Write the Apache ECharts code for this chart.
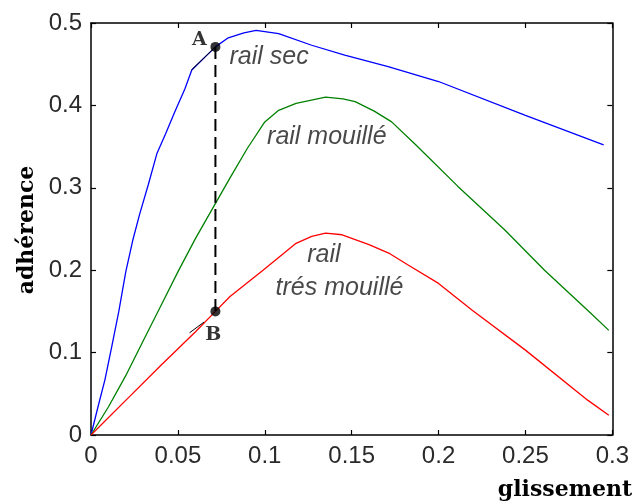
<!DOCTYPE html>
<html><head><meta charset="utf-8">
<script src="https://cdn.jsdelivr.net/npm/echarts@6/dist/echarts.min.js"></script>
<style>html,body{margin:0;padding:0;background:#fff}#c{width:632px;height:504px}</style>
</head><body><div id="c"></div>
<script>
const xTicks = [0, 0.05, 0.1, 0.15, 0.2, 0.25, 0.3];
const yTicks = [0, 0.1, 0.2, 0.3, 0.4, 0.5];
const railSec = [[0,0],[0.004,0.034],[0.008,0.067],[0.012,0.108],[0.016,0.15],[0.02,0.198],[0.024,0.236],[0.028,0.268],[0.033,0.304],[0.038,0.342],[0.043,0.366],[0.048,0.391],[0.054,0.42],[0.058,0.443],[0.0716,0.471],[0.079,0.482],[0.088,0.488],[0.095,0.491],[0.108,0.487],[0.127,0.473],[0.146,0.461],[0.171,0.447],[0.2,0.429],[0.25,0.388],[0.295,0.352]];
const railMouille = [[0,0],[0.01,0.034],[0.02,0.072],[0.03,0.114],[0.04,0.156],[0.05,0.198],[0.06,0.238],[0.07,0.275],[0.08,0.312],[0.09,0.348],[0.1,0.38],[0.108,0.394],[0.118,0.4025],[0.135,0.41],[0.145,0.408],[0.152,0.4045],[0.163,0.393],[0.173,0.38],[0.187,0.352],[0.211,0.302],[0.238,0.249],[0.261,0.2],[0.287,0.149],[0.298,0.127]];
const railTresMouille = [[0,0],[0.02,0.042],[0.04,0.084],[0.06,0.125],[0.0716,0.15],[0.08,0.168],[0.099,0.2],[0.118,0.2326],[0.127,0.241],[0.135,0.245],[0.1445,0.243],[0.16,0.231],[0.172,0.22],[0.182,0.207],[0.2,0.184],[0.219,0.152],[0.25,0.103],[0.286,0.042],[0.298,0.024]];
const tangentA = [[0.0578,0.443],[0.0716,0.471]];
const tangentB = [[0.0567,0.124],[0.065,0.137]];
const pointsAB = [[0.0716,0.471],[0.0716,0.15]];
const dashAB = [[0.0716,0.471],[0.0716,0.15]];
const pointLabels = [["A",0.0624,0.479],["B",0.0704,0.121]];
const curveLabels = [["rail sec",0.1025,0.459],["rail mouillé",0.1357,0.362],["rail",0.134,0.218],["trés mouillé",0.143,0.178]];
const xName = "glissement";
const yName = "adhérence";

const chart = echarts.init(document.getElementById('c'), null, {renderer:'canvas'});
const axisLine = {show:true, onZero:false, lineStyle:{color:'#000', width:1.5}};
const tickFont = {fontFamily:'Liberation Sans', fontSize:24, color:'#2a2a2a'};
const ax = (extra) => Object.assign({type:'value', splitLine:{show:false}, axisLine, axisTick:{show:true, inside:true, length:5, lineStyle:{color:'#000', width:1.2}}}, extra);
chart.setOption({
  animation:false,
  grid:{left:91, top:23, right:17, bottom:69, containLabel:false},
  xAxis:[
    ax({min:0, max:0.3, interval:0.05, position:'bottom', axisLabel:Object.assign({margin:9, formatter:v=>String(+v.toFixed(2))}, tickFont)}),
    ax({min:0, max:0.3, interval:0.05, position:'top', axisLabel:{show:false}})
  ],
  yAxis:[
    ax({min:0, max:0.5, interval:0.1, position:'left', axisLabel:Object.assign({margin:9, formatter:v=>String(+v.toFixed(1))}, tickFont)}),
    ax({min:0, max:0.5, interval:0.1, position:'right', axisLabel:{show:false}})
  ],
  graphic:[
    {type:'text', x:27, y:230, rotation:Math.PI/2, style:{text:yName, font:'bold 22px "DejaVu Serif"', fill:'#000', textAlign:'center', textVerticalAlign:'middle'}},
    {type:'text', x:565, y:490, style:{text:xName, font:'bold 22px "DejaVu Serif"', fill:'#000', textAlign:'center', textVerticalAlign:'middle'}}
  ],
  series:[
    {type:'line', data:railSec, showSymbol:false, lineStyle:{color:'#0000ff', width:1.3}, z:3},
    {type:'line', data:railMouille, showSymbol:false, lineStyle:{color:'#008000', width:1.3}, z:3},
    {type:'line', data:railTresMouille, showSymbol:false, lineStyle:{color:'#ff0000', width:1.3}, z:3},
    {type:'line', data:tangentA, showSymbol:false, lineStyle:{color:'#000', width:1}, z:4},
    {type:'line', data:tangentB, showSymbol:false, lineStyle:{color:'#000', width:1}, z:4},
    {type:'line', data:dashAB, showSymbol:false, lineStyle:{color:'#000', width:2, type:[12,6]}, z:4},
    {type:'scatter', data:pointsAB, symbol:'circle', symbolSize:10, itemStyle:{color:'#000'}, z:5},
    {type:'scatter', data:pointLabels.map(d=>({value:[d[1],d[2]], name:d[0]})), symbolSize:0, z:6,
      label:{show:true, position:'inside', formatter:p=>p.name, fontFamily:'DejaVu Serif', fontWeight:'bold', fontSize:19, color:'#000'}},
    {type:'scatter', data:curveLabels.map(d=>({value:[d[1],d[2]], name:d[0]})), symbolSize:0, z:6,
      label:{show:true, position:'inside', formatter:p=>p.name, fontFamily:'Liberation Sans', fontStyle:'italic', fontSize:25, color:'#1a1a1a'}}
  ]
});
</script></body></html>
